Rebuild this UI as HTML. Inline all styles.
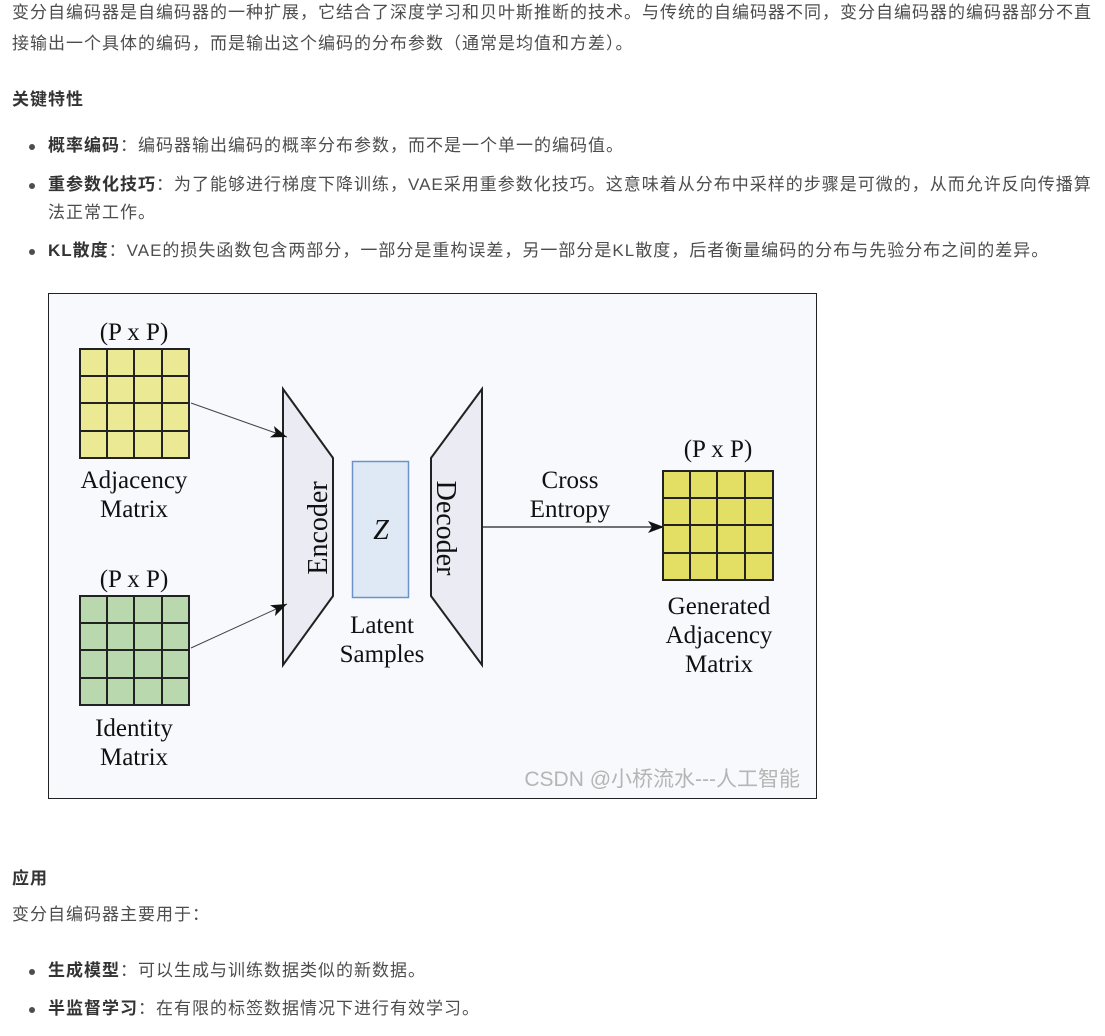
<!DOCTYPE html>
<html><head><meta charset="utf-8"><style>
body{margin:0;background:#fff;width:1105px;height:1036px;overflow:hidden;font-family:"Liberation Sans","Noto Sans CJK SC",sans-serif;color:#4d4d4d;font-size:17px;letter-spacing:1px;}
.t{position:absolute;white-space:nowrap;line-height:30px;}
b{color:#333;font-weight:bold;}
.dot{position:absolute;width:6px;height:6px;border-radius:50%;background:#4d4d4d;}
svg text{font-family:"Liberation Serif",serif;fill:#111;letter-spacing:0;}
</style></head><body>
<div class="t" style="left:12px;top:-2px">变分自编码器是自编码器的一种扩展，它结合了深度学习和贝叶斯推断的技术。与传统的自编码器不同，变分自编码器的编码器部分不直</div>
<div class="t" style="left:12px;top:29px">接输出一个具体的编码，而是输出这个编码的分布参数（通常是均值和方差）。</div>
<div class="t" style="left:12px;top:85px"><b>关键特性</b></div>
<div class="dot" style="left:29px;top:144px"></div>
<div class="t" style="left:48px;top:131px"><b>概率编码</b>：编码器输出编码的概率分布参数，而不是一个单一的编码值。</div>
<div class="dot" style="left:29px;top:183px"></div>
<div class="t" style="left:48px;top:170px"><b>重参数化技巧</b>：为了能够进行梯度下降训练，VAE采用重参数化技巧。这意味着从分布中采样的步骤是可微的，从而允许反向传播算</div>
<div class="t" style="left:48px;top:198px">法正常工作。</div>
<div class="dot" style="left:29px;top:249px"></div>
<div class="t" style="left:48px;top:236px"><b>KL散度</b>：VAE的损失函数包含两部分，一部分是重构误差，另一部分是KL散度，后者衡量编码的分布与先验分布之间的差异。</div>

<svg style="position:absolute;left:0;top:0" width="1105" height="1036">
<defs><marker id="a" markerWidth="16" markerHeight="12" refX="16" refY="6" orient="auto" markerUnits="userSpaceOnUse"><path d="M0,0L16,6L0,12L4,6z" fill="#111"/></marker></defs>
<rect x="48.5" y="293.5" width="768" height="505" fill="#f7f9fd" stroke="#222"/>
<g stroke="#222" stroke-width="2">
<rect x="80" y="349" width="109" height="109" fill="#ece994"/>
<path d="M107,349V458M134,349V458M162,349V458M80,376H189M80,403H189M80,431H189" fill="none"/>
<rect x="80" y="596" width="109" height="109" fill="#b9d8ae"/>
<path d="M107,596V705M134,596V705M162,596V705M80,623H189M80,650H189M80,678H189" fill="none"/>
<rect x="663" y="471" width="110" height="109" fill="#e2df64"/>
<path d="M690,471V580M717,471V580M745,471V580M663,498H773M663,525H773M663,553H773" fill="none"/>
<path d="M283,389L333,458V596L283,665Z" fill="#ebebf3"/>
<path d="M482,389L431,458V596L482,665Z" fill="#ebebf3"/>
</g>
<rect x="352.5" y="461.5" width="56" height="136" fill="#dfe9f5" stroke="#6a93cc" stroke-width="1.5"/>
<line x1="191" y1="403" x2="287" y2="437" stroke="#444" stroke-width="1" marker-end="url(#a)"/>
<line x1="191" y1="648" x2="287" y2="604" stroke="#444" stroke-width="1" marker-end="url(#a)"/>
<line x1="483" y1="527" x2="664" y2="527" stroke="#444" stroke-width="1.5" marker-end="url(#a)"/>
<g font-size="25" text-anchor="middle">
<text x="134" y="340">(P x P)</text>
<text x="134" y="488">Adjacency</text><text x="134" y="517">Matrix</text>
<text x="134" y="587">(P x P)</text>
<text x="134" y="736">Identity</text><text x="134" y="765">Matrix</text>
<text x="718" y="457">(P x P)</text>
<text x="570" y="488">Cross</text><text x="570" y="517">Entropy</text>
<text x="719" y="614">Generated</text><text x="719" y="643">Adjacency</text><text x="719" y="672">Matrix</text>
<text x="382" y="633">Latent</text><text x="382" y="662">Samples</text>
<text x="381" y="539" font-style="italic" font-size="28">Z</text>
<text transform="translate(318,528) rotate(-90)" dy="9" font-size="28">Encoder</text>
<text transform="translate(446,528) rotate(90)" dy="9" font-size="28">Decoder</text>
</g>
<text x="800" y="786" text-anchor="end" font-size="21" style="font-family:'Liberation Sans','Noto Sans CJK SC',sans-serif;fill:#b5b5b5">CSDN @小桥流水---人工智能</text>
</svg>

<div class="t" style="left:12px;top:864px"><b>应用</b></div>
<div class="t" style="left:12px;top:900px">变分自编码器主要用于：</div>
<div class="dot" style="left:29px;top:969px"></div>
<div class="t" style="left:48px;top:956px"><b>生成模型</b>：可以生成与训练数据类似的新数据。</div>
<div class="dot" style="left:29px;top:1007px"></div>
<div class="t" style="left:48px;top:994px"><b>半监督学习</b>：在有限的标签数据情况下进行有效学习。</div>
</body></html>
